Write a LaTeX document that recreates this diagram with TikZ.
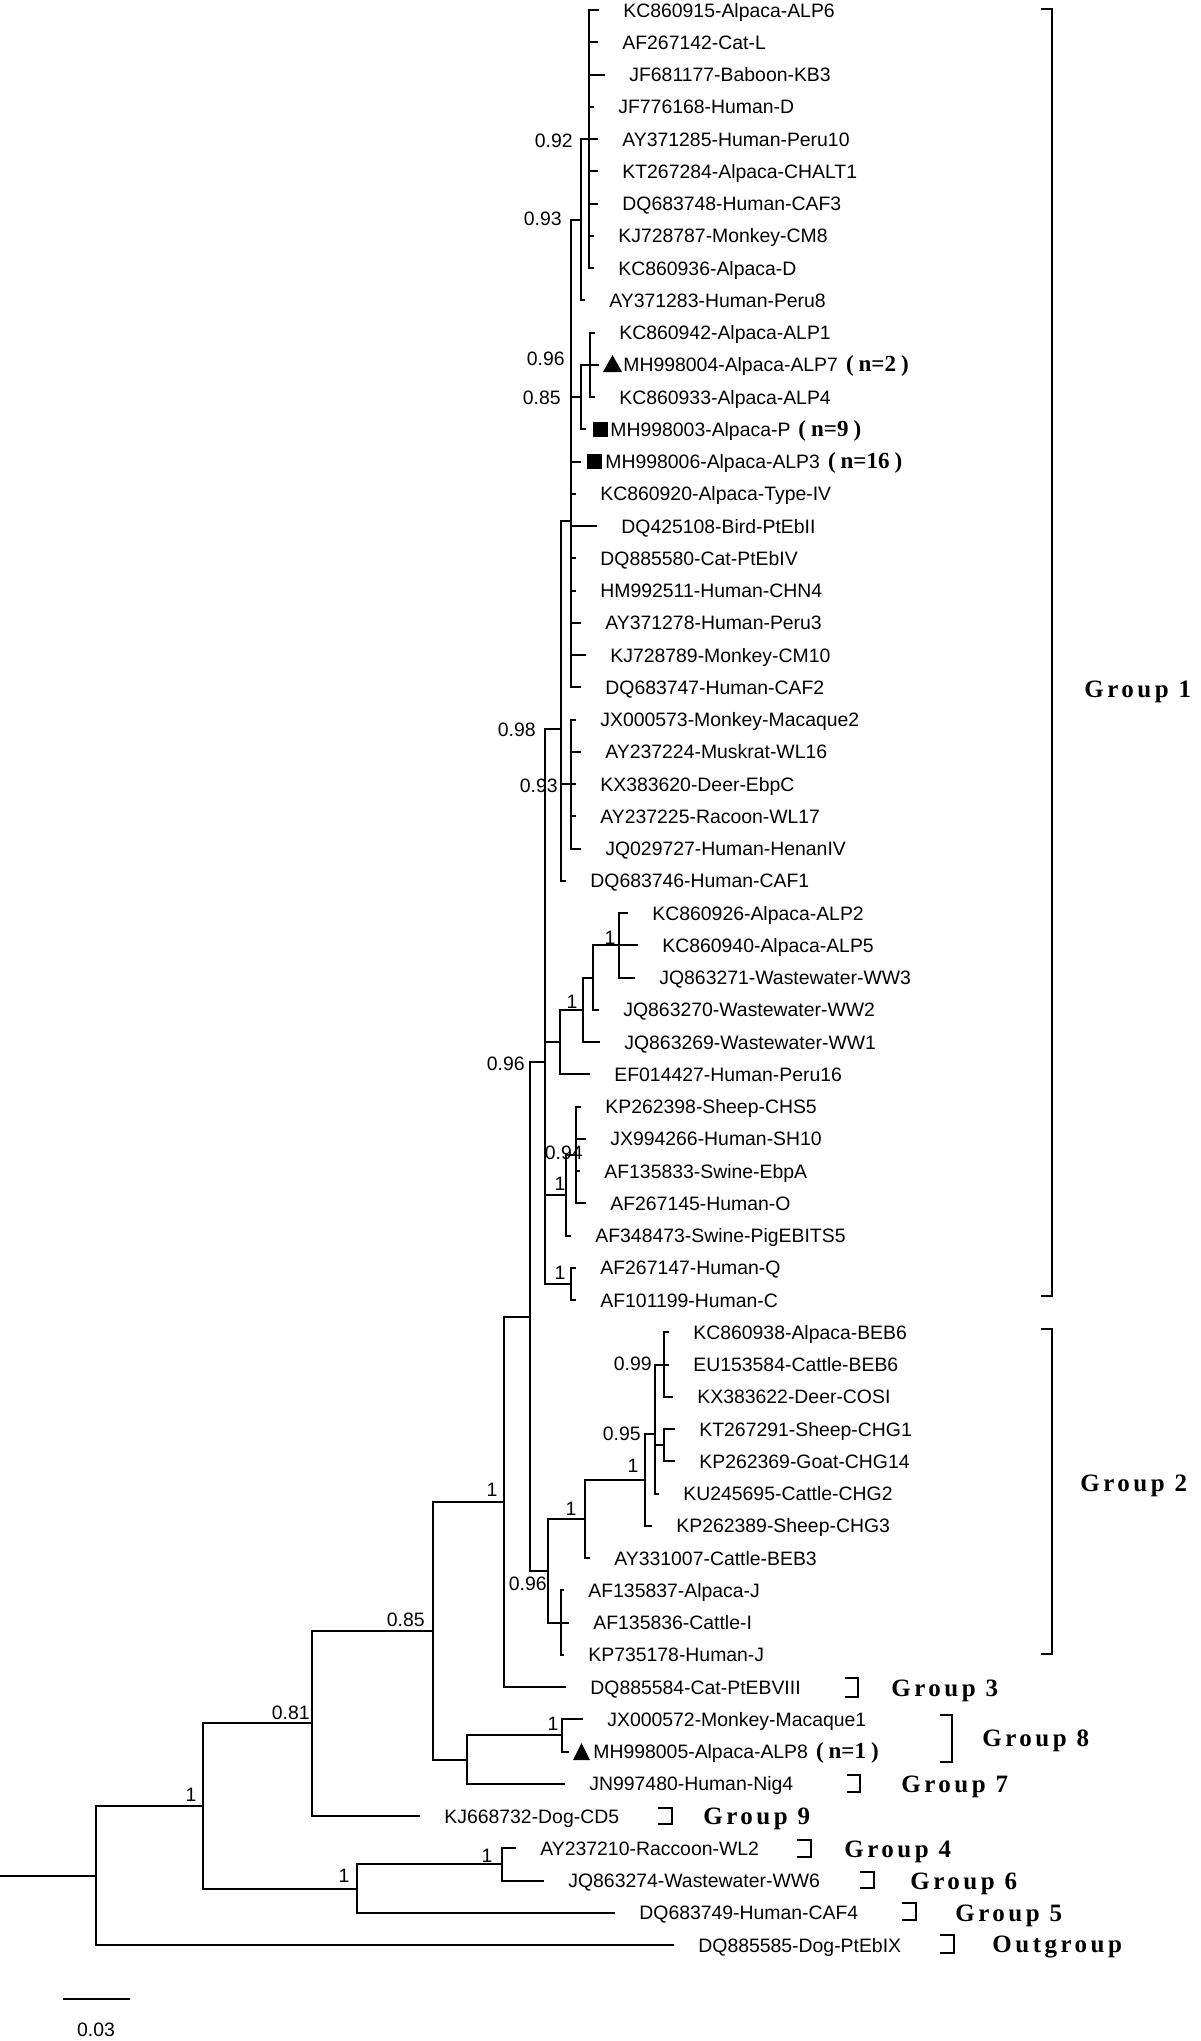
\documentclass[tikz,border=0pt]{standalone}
\usepackage{fontspec}
\setmainfont{Liberation Sans}
\newfontfamily\grpfont[LetterSpace=14]{Liberation Serif}
\newfontfamily\nfont{Liberation Serif}
\newcommand\leaf[4]{%
  \coordinate (#1) at (#2,{10+(#3-1)*32.25});
  \node[lab] (#1t) at ({#2+24},{17+(#3-1)*32.25}) {#4};}
\newcommand\nlab[1]{\kern4pt{\nfont\bfseries\fontsize{11.5}{12}\selectfont(\kern2.5pt#1\kern2.5pt)}}
\begin{document}
\begin{tikzpicture}[x=0.5pt,y=-0.5pt,
  br/.style={line width=1pt},
  bk/.style={line width=0.9pt},
  lab/.style={inner sep=0pt,anchor=base west,font=\fontsize{9.7}{11}\selectfont},
  supp/.style={inner sep=0pt,anchor=base east,font=\fontsize{9.7}{11}\selectfont},
  supc/.style={inner sep=0pt,anchor=base,font=\fontsize{9.7}{11}\selectfont},
  grp/.style={inner sep=0pt,anchor=base west,font=\grpfont\bfseries\fontsize{12.5}{14}\selectfont}]
\useasboundingbox (0,0) rectangle (1200,2041);
% leaves
\leaf{L1}{599}{1}{KC860915-Alpaca-ALP6}
\leaf{L2}{598}{2}{AF267142-Cat-L}
\leaf{L3}{605}{3}{JF681177-Baboon-KB3}
\leaf{L4}{594}{4}{JF776168-Human-D}
\leaf{L5}{598}{5}{AY371285-Human-Peru10}
\leaf{L6}{598}{6}{KT267284-Alpaca-CHALT1}
\leaf{L7}{598}{7}{DQ683748-Human-CAF3}
\leaf{L8}{594}{8}{KJ728787-Monkey-CM8}
\leaf{L9}{594}{9}{KC860936-Alpaca-D}
\leaf{L10}{585}{10}{AY371283-Human-Peru8}
\leaf{L11}{595}{11}{KC860942-Alpaca-ALP1}
\leaf{L12}{599}{12}{MH998004-Alpaca-ALP7\nlab{n=2}}
\leaf{L13}{595}{13}{KC860933-Alpaca-ALP4}
\leaf{L14}{586}{14}{MH998003-Alpaca-P\nlab{n=9}}
\leaf{L15}{581}{15}{MH998006-Alpaca-ALP3\nlab{n=16}}
\leaf{L16}{576}{16}{KC860920-Alpaca-Type-IV}
\leaf{L17}{597}{17}{DQ425108-Bird-PtEbII}
\leaf{L18}{576}{18}{DQ885580-Cat-PtEbIV}
\leaf{L19}{576}{19}{HM992511-Human-CHN4}
\leaf{L20}{581}{20}{AY371278-Human-Peru3}
\leaf{L21}{586}{21}{KJ728789-Monkey-CM10}
\leaf{L22}{581}{22}{DQ683747-Human-CAF2}
\leaf{L23}{576}{23}{JX000573-Monkey-Macaque2}
\leaf{L24}{581}{24}{AY237224-Muskrat-WL16}
\leaf{L25}{576}{25}{KX383620-Deer-EbpC}
\leaf{L26}{576}{26}{AY237225-Racoon-WL17}
\leaf{L27}{581}{27}{JQ029727-Human-HenanIV}
\leaf{L28}{566}{28}{DQ683746-Human-CAF1}
\leaf{L29}{628}{29}{KC860926-Alpaca-ALP2}
\leaf{L30}{638}{30}{KC860940-Alpaca-ALP5}
\leaf{L31}{635}{31}{JQ863271-Wastewater-WW3}
\leaf{L32}{599}{32}{JQ863270-Wastewater-WW2}
\leaf{L33}{600}{33}{JQ863269-Wastewater-WW1}
\leaf{L34}{590}{34}{EF014427-Human-Peru16}
\leaf{L35}{581}{35}{KP262398-Sheep-CHS5}
\leaf{L36}{586}{36}{JX994266-Human-SH10}
\leaf{L37}{580}{37}{AF135833-Swine-EbpA}
\leaf{L38}{586}{38}{AF267145-Human-O}
\leaf{L39}{571}{39}{AF348473-Swine-PigEBITS5}
\leaf{L40}{576}{40}{AF267147-Human-Q}
\leaf{L41}{576}{41}{AF101199-Human-C}
\leaf{L42}{669}{42}{KC860938-Alpaca-BEB6}
\leaf{L43}{669}{43}{EU153584-Cattle-BEB6}
\leaf{L44}{673}{44}{KX383622-Deer-COSI}
\leaf{L45}{675}{45}{KT267291-Sheep-CHG1}
\leaf{L46}{675}{46}{KP262369-Goat-CHG14}
\leaf{L47}{659}{47}{KU245695-Cattle-CHG2}
\leaf{L48}{652}{48}{KP262389-Sheep-CHG3}
\leaf{L49}{590}{49}{AY331007-Cattle-BEB3}
\leaf{L50}{564}{50}{AF135837-Alpaca-J}
\leaf{L51}{569}{51}{AF135836-Cattle-I}
\leaf{L52}{564}{52}{KP735178-Human-J}
\leaf{L53}{566}{53}{DQ885584-Cat-PtEBVIII}
\leaf{L54}{583}{54}{JX000572-Monkey-Macaque1}
\leaf{L55}{569}{55}{MH998005-Alpaca-ALP8\nlab{n=1}}
\leaf{L56}{565}{56}{JN997480-Human-Nig4}
\leaf{L57}{420}{57}{KJ668732-Dog-CD5}
\leaf{L58}{516}{58}{AY237210-Raccoon-WL2}
\leaf{L59}{544}{59}{JQ863274-Wastewater-WW6}
\leaf{L60}{615}{60}{DQ683749-Human-CAF4}
\leaf{L61}{674}{61}{DQ885585-Dog-PtEbIX}
% internal nodes
\coordinate (nA) at (589,139);
\coordinate (nB) at (581,219.6);
\coordinate (nC) at (590,364.75);
\coordinate (nD) at (581,397);
\coordinate (nE) at (571,521.2);
\coordinate (nF) at (571,784);
\coordinate (nG) at (561,728.65);
\coordinate (nH) at (619,945.25);
\coordinate (nI) at (593,977.5);
\coordinate (nJ) at (583,1009.75);
\coordinate (nK) at (560,1042);
\coordinate (nL) at (576,1154.9);
\coordinate (nM) at (566,1195.2);
\coordinate (nN) at (571,1283.9);
\coordinate (nO) at (545,1062.4);
\coordinate (nP) at (664,1364.5);
\coordinate (nQ) at (664,1445.1);
\coordinate (nR) at (655,1434.4);
\coordinate (nS) at (645,1480.1);
\coordinate (nT) at (585,1519);
\coordinate (nU) at (561,1622.5);
\coordinate (nV) at (548,1570.8);
\coordinate (nW) at (530,1316.6);
\coordinate (nX) at (504,1501.8);
\coordinate (nY) at (562,1735.4);
\coordinate (nZ) at (467,1759.6);
\coordinate (n1) at (433,1630.7);
\coordinate (n2) at (312,1723.4);
\coordinate (n3) at (502,1864.4);
\coordinate (n4) at (357,1888.6);
\coordinate (n5) at (203,1806);
\coordinate (root) at (96,1875.5);
\coordinate (r0) at (0,1875.5);
% branches
\draw[br] (nA) |- (L1) (nA) |- (L2) (nA) |- (L3) (nA) |- (L4) (nA) |- (L5)
  (nA) |- (L6) (nA) |- (L7) (nA) |- (L8) (nA) |- (L9);
\draw[br] (nB) |- (nA) (nB) |- (L10);
\draw[br] (nC) |- (L11) (nC) |- (L12) (nC) |- (L13);
\draw[br] (nD) |- (nC) (nD) |- (L14);
\draw[br] (nE) |- (nB) (nE) |- (nD) (nE) |- (L15) (nE) |- (L16) (nE) |- (L17)
  (nE) |- (L18) (nE) |- (L19) (nE) |- (L20) (nE) |- (L21) (nE) |- (L22);
\draw[br] (nF) |- (L23) (nF) |- (L24) (nF) |- (L25) (nF) |- (L26) (nF) |- (L27);
\draw[br] (nG) |- (nE) (nG) |- (nF) (nG) |- (L28);
\draw[br] (nH) |- (L29) (nH) |- (L30) (nH) |- (L31);
\draw[br] (nI) |- (nH) (nI) |- (L32);
\draw[br] (nJ) |- (nI) (nJ) |- (L33);
\draw[br] (nK) |- (nJ) (nK) |- (L34);
\draw[br] (nL) |- (L35) (nL) |- (L36) (nL) |- (L37) (nL) |- (L38);
\draw[br] (nM) |- (nL) (nM) |- (L39);
\draw[br] (nN) |- (L40) (nN) |- (L41);
\draw[br] (nO) |- (nG) (nO) |- (nK) (nO) |- (nM) (nO) |- (nN);
\draw[br] (nP) |- (L42) (nP) |- (L43) (nP) |- (L44);
\draw[br] (nQ) |- (L45) (nQ) |- (L46);
\draw[br] (nR) |- (nP) (nR) |- (nQ) (nR) |- (L47);
\draw[br] (nS) |- (nR) (nS) |- (L48);
\draw[br] (nT) |- (nS) (nT) |- (L49);
\draw[br] (nU) |- (L50) (nU) |- (L51) (nU) |- (L52);
\draw[br] (nV) |- (nT) (nV) |- (nU);
\draw[br] (nW) |- (nO) (nW) |- (nV);
\draw[br] (nX) |- (nW) (nX) |- (L53);
\draw[br] (nY) |- (L54) (nY) |- (L55);
\draw[br] (nZ) |- (nY) (nZ) |- (L56);
\draw[br] (n1) |- (nX) (n1) |- (nZ);
\draw[br] (n2) |- (n1) (n2) |- (L57);
\draw[br] (n3) |- (L58) (n3) |- (L59);
\draw[br] (n4) |- (n3) (n4) |- (L60);
\draw[br] (n5) |- (n2) (n5) |- (n4);
\draw[br] (root) |- (n5) (root) |- (L61);
\draw[br] (r0) -- (root);
% markers
\fill (603,372) -- (622,372) -- (612.5,355) -- cycle;
\fill (593,422) rectangle (608,437);
\fill (587,454) rectangle (602,469);
\fill (573,1760) -- (590,1760) -- (581.5,1743) -- cycle;
% support values
\node[supp] (s1) at (573,147) {0.92};
\node[supp] (s2) at (562,225) {0.93};
\node[supp] (s3) at (565,365) {0.96};
\node[supp] (s4) at (561,404) {0.85};
\node[supp] (s5) at (536,736) {0.98};
\node[supp] (s6) at (558,792) {0.93};
\node[supc] (s7) at (610,944) {1};
\node[supc] (s8) at (572,1008) {1};
\node[supp] (s9) at (525,1070) {0.96};
\node[supp] (s10) at (583,1159) {0.94};
\node[supc] (s11) at (560,1190) {1};
\node[supc] (s12) at (560,1279) {1};
\node[supp] (s13) at (652,1370) {0.99};
\node[supp] (s14) at (641,1440) {0.95};
\node[supc] (s15) at (633,1472) {1};
\node[supc] (s16) at (571,1515) {1};
\node[supp] (s17) at (547,1590) {0.96};
\node[supc] (s18) at (492,1496) {1};
\node[supp] (s19) at (425,1626) {0.85};
\node[supp] (s20) at (310,1719) {0.81};
\node[supc] (s21) at (191,1801) {1};
\node[supc] (s22) at (553,1730) {1};
\node[supc] (s23) at (487,1862) {1};
\node[supc] (s24) at (344,1882) {1};
% group brackets
\coordinate (g1a) at (1041,9);
\coordinate (g1b) at (1052,9);
\coordinate (g1c) at (1052,1296);
\coordinate (g1d) at (1041,1296);
\draw[bk] (g1a) -- (g1b) -- (g1c) -- (g1d);
\coordinate (g2a) at (1041,1329);
\coordinate (g2b) at (1052,1329);
\coordinate (g2c) at (1052,1654);
\coordinate (g2d) at (1041,1654);
\draw[bk] (g2a) -- (g2b) -- (g2c) -- (g2d);
\draw[bk] (845,1678) -- (858,1678) -- (858,1697) -- (845,1697);
\draw[bk] (940,1715) -- (952,1715) -- (952,1762) -- (940,1762);
\draw[bk] (847,1775) -- (860,1775) -- (860,1792) -- (847,1792);
\draw[bk] (658,1808) -- (672,1808) -- (672,1824) -- (658,1824);
\draw[bk] (797,1840) -- (811,1840) -- (811,1857) -- (797,1857);
\draw[bk] (860,1872) -- (874,1872) -- (874,1888) -- (860,1888);
\draw[bk] (902,1903) -- (916,1903) -- (916,1920) -- (902,1920);
\draw[bk] (940,1935) -- (954,1935) -- (954,1953) -- (940,1953);
% group labels
\node[grp] (G1) at (1084,697) {Group 1};
\node[grp] (G2) at (1080,1491) {Group 2};
\node[grp] (G3) at (891,1696) {Group 3};
\node[grp] (G8) at (982,1746) {Group 8};
\node[grp] (G7) at (901,1792) {Group 7};
\node[grp] (G9) at (703,1824) {Group 9};
\node[grp] (G4) at (844,1857) {Group 4};
\node[grp] (G6) at (910,1889) {Group 6};
\node[grp] (G5) at (955,1921) {Group 5};
\node[grp] (GO) at (992,1952) {Outgroup};
% scale bar
\coordinate (sb1) at (63,1999);
\coordinate (sb2) at (130,1999);
\draw[br] (sb1) -- (sb2);
\node[supc] (sbl) at (96,2036) {0.03};
\end{tikzpicture}
\end{document}
